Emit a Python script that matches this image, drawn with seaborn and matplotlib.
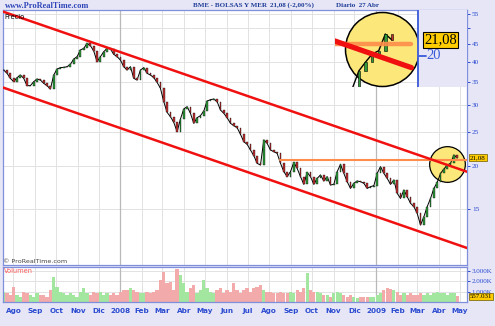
import numpy as np
import pandas as pd
import matplotlib
matplotlib.use("Agg")
import matplotlib.pyplot as plt
import matplotlib.transforms as mtransforms
from matplotlib.ticker import NullLocator
import seaborn as sns

# ---------------- data ----------------
start_date = "2007-07-18"
end_date = "2009-04-27"

close = [
    37.87, 37.04, 35.83, 35.04, 35.99, 36.63, 35.83, 34.12, 34.12, 35.04,
    35.67, 35.43, 34.65, 34.12, 33.37, 36.63, 38.12, 38.47, 38.55, 38.72,
    39.33, 40.75, 41.39, 43.27, 43.75, 45.23, 44.54, 42.98, 40.03, 41.39,
    42.79, 43.75, 43.56, 42.04, 41.39, 40.48, 38.72, 37.87, 38.72, 35.83,
    35.43, 37.87, 38.47, 37.04, 36.63, 35.99, 34.88, 33.52, 30.67, 28.56,
    27.75, 26.72, 25.11, 27.32, 29.21, 29.66, 28.38, 26.55, 27.57, 27.94,
    28.82, 30.80, 31.08, 31.22, 30.67, 29.01, 28.38, 27.57, 26.55, 26.14,
    25.79, 24.67, 23.49, 23.08, 22.22, 21.40, 20.34, 20.11, 23.76, 23.23,
    22.22, 21.98, 21.74, 20.34, 19.24, 18.61, 19.24, 20.47, 19.67, 18.61,
    17.68, 19.15, 18.61, 17.68, 18.40, 18.82, 18.08, 18.61, 17.60, 17.68,
    19.24, 20.20, 19.02, 18.00, 17.21, 17.80, 18.08, 18.00, 17.80, 17.21,
    17.41, 17.53, 19.02, 19.89, 19.02, 18.40, 17.68, 18.20, 16.65, 16.10,
    17.02, 16.28, 15.58, 15.24, 14.57, 13.48, 14.25, 15.24, 16.10, 17.21,
    17.92, 19.02, 19.58, 20.11, 20.34, 21.50, 21.08,
]

volume_k = [
    1003, 842, 680, 1489, 680, 518, 1003, 842, 680, 518,
    842, 680, 680, 518, 1165, 2460, 1489, 1003, 842, 680,
    842, 680, 518, 1003, 1327, 842, 680, 1003, 842, 1003,
    680, 842, 680, 842, 680, 1003, 1165, 1165, 1327, 1165,
    1003, 842, 842, 1003, 842, 1003, 1165, 2136, 2945, 1812,
    1974, 1165, 3172, 2621, 1812, 1003, 1327, 1650, 842, 1165,
    2136, 1327, 1003, 842, 1165, 1327, 842, 1165, 1003, 1812,
    1165, 842, 1165, 1327, 1003, 1327, 1489, 1650, 1165, 1003,
    1003, 842, 842, 1003, 842, 842, 1003, 842, 1165, 1003,
    1327, 2783, 1165, 1003, 1003, 842, 680, 680, 518, 842,
    1003, 842, 680, 518, 680, 518, 356, 518, 518, 518,
    518, 518, 680, 842, 1165, 1327, 1230, 1165, 1003, 680,
    842, 680, 842, 680, 680, 842, 680, 842, 680, 842,
    1003, 906, 842, 680, 842, 842, 557,
]

channel_dates = ["2007-07-17", "2009-05-11"]
upper_channel = [55.89, 19.23]
lower_channel = [33.70, 11.57]
resistance_dates = ["2008-08-16", "2009-05-11"]
resistance = [20.8, 20.8]

last_price = 21.08
last_volume_k = 557.031
highlight_date, highlight_price = "2009-04-13", 20.3
zoom_circle_date, zoom_circle_price = "2009-04-20", 20.45

price_ticks = [15, 20, 25, 30, 35, 40, 45, 50, 55]
price_tick_labels = ["15", "20", "25", "30", "35", "40", "45", "", "55"]
vol_ticks = [1000, 2000, 3000]
vol_tick_labels = ["1.000K", "2.000K", "3.000K"]
month_labels = ["Ago", "Sep", "Oct", "Nov", "Dic", "2008", "Feb", "Mar", "Abr",
                "May", "Jun", "Jul", "Ago", "Sep", "Oct", "Nov", "Dic", "2009",
                "Feb", "Mar", "Abr", "May"]
year_starts = ["2008-01-01", "2009-01-01"]

# ---------------- style ----------------
BG = "#e6e6f7"
SPINE = "#7f8fdc"
BLUE = "#2b4bd0"
GRID = "#e2e2e2"
UP_BODY, DOWN_BODY = "#2f9a3a", "#c23030"
UP_VOL, DOWN_VOL = "#a3e6a0", "#f2aaaa"

sns.set_theme(style="white")
plt.rcParams["font.family"] = ["DejaVu Sans"]
SERIF = ["Liberation Serif", "DejaVu Serif"]

df = pd.DataFrame({
    "date": pd.date_range(start_date, end_date, periods=len(close)),
    "close": close,
    "volume": volume_k,
})
df["open"] = df["close"].shift(1).fillna(df["close"].iloc[0])
df["up"] = df["close"] >= df["open"]
body_lo = df[["open", "close"]].min(axis=1)
body_hi = df[["open", "close"]].max(axis=1)
months = pd.date_range("2007-08-01", "2009-05-01", freq="MS")

W, H = 495, 326
fig = plt.figure(figsize=(W / 100, H / 100), dpi=100, facecolor=BG)
ax = fig.add_axes([3 / W, 1 - 265 / H, 464 / W, 255 / H])
axv = fig.add_axes([3 / W, 1 - 302 / H, 464 / W, 35 / H], sharex=ax)

# ---------------- price panel ----------------
ax.set_facecolor("white")
ax.set_yscale("log")
ax.set_xlim(pd.Timestamp("2007-07-17"), pd.Timestamp("2009-05-11"))
ax.set_ylim(10.33, 56.49)
ax.set_xticks(months)
ax.tick_params(axis="x", length=0, labelbottom=False)
ax.yaxis.tick_right()
ax.set_yticks(price_ticks)
ax.set_yticklabels(price_tick_labels)
ax.yaxis.set_minor_locator(NullLocator())
ax.tick_params(axis="y", length=2, width=0.7, color=BLUE, pad=1.5,
               labelsize=5.2, labelcolor=BLUE)
for lab in ax.get_yticklabels():
    lab.set_family(SERIF)
ax.grid(True, color=GRID, lw=0.7, zorder=0)
ax.set_axisbelow(True)
for y in year_starts:
    ax.axvline(pd.Timestamp(y), color="#b9b9b9", lw=0.9, zorder=0.6)
for s in ax.spines.values():
    s.set_color(SPINE)
    s.set_linewidth(0.9)

ax.scatter([pd.Timestamp(highlight_date)], [highlight_price], s=660,
           facecolor="#fbe77a", edgecolor="black", linewidth=0.9, zorder=2.5)
sns.lineplot(data=df, x="date", y="close", color="black", lw=0.7, ax=ax, zorder=3)
ax.bar(df["date"], body_hi - body_lo, bottom=body_lo, width=2.6,
       color=np.where(df["up"], UP_BODY, DOWN_BODY), edgecolor="black",
       linewidth=0.25, zorder=3.5)
ax.plot(pd.to_datetime(resistance_dates), resistance, color="#ff8c4a", lw=1.5, zorder=4)
ax.plot(pd.to_datetime(channel_dates), upper_channel, color="#f01010", lw=1.8, zorder=4.5)
ax.plot(pd.to_datetime(channel_dates), lower_channel, color="#f01010", lw=1.8, zorder=4.5)
ax.set_xlabel("")
ax.set_ylabel("")

ytrans = mtransforms.blended_transform_factory(ax.transAxes, ax.transData)
ax.text(1.006, last_price, "21,08", transform=ytrans, fontsize=5, family=SERIF,
        va="center", ha="left", color="black",
        bbox=dict(boxstyle="square,pad=0.15", fc="#ffcc00", ec="#6a5a00", lw=0.5),
        clip_on=False, zorder=6)
ax.text(0.003, 0.985, "Precio", transform=ax.transAxes, fontsize=4.8,
        va="top", ha="left", color="black", zorder=6)
ax.text(0.0, 0.002, "\u00a9 ProRealTime.com", transform=ax.transAxes,
        fontsize=4.6, va="bottom", ha="left", color="#444444", zorder=6)

# ---------------- volume panel ----------------
axv.set_facecolor("white")
axv.bar(df["date"], df["volume"], width=4.7,
        color=np.where(df["up"], UP_VOL, DOWN_VOL), edgecolor="none", zorder=2)
axv.set_ylim(0, 3400)
axv.yaxis.tick_right()
axv.set_yticks(vol_ticks)
axv.set_yticklabels(vol_tick_labels)
axv.tick_params(axis="y", length=2, width=0.7, color=BLUE, pad=1.5,
                labelsize=5, labelcolor=BLUE)
for lab in axv.get_yticklabels():
    lab.set_family(SERIF)
axv.set_xticks(months)
axv.set_xticklabels(month_labels)
axv.tick_params(axis="x", length=2.5, width=0.8, color=BLUE, pad=1.5,
                labelsize=5.2, labelcolor=BLUE)
for lab in axv.get_xticklabels():
    lab.set_fontweight("bold")
axv.grid(True, color=GRID, lw=0.7, zorder=0)
axv.set_axisbelow(True)
for y in year_starts:
    axv.axvline(pd.Timestamp(y), color="#b9b9b9", lw=0.9, zorder=0.6)
for s in axv.spines.values():
    s.set_color(SPINE)
    s.set_linewidth(0.9)
vtrans = mtransforms.blended_transform_factory(axv.transAxes, axv.transData)
axv.text(1.006, last_volume_k, "557.031", transform=vtrans, fontsize=5, family=SERIF,
         va="center", ha="left", color="black",
         bbox=dict(boxstyle="square,pad=0.15", fc="#ffcc00", ec="#6a5a00", lw=0.5),
         clip_on=False, zorder=6)
axv.text(0.003, 0.96, "Volumen", transform=axv.transAxes, fontsize=4.8,
         va="top", ha="left", color="#ff5a5a", zorder=6)

# ---------------- magnified inset ----------------
axi = fig.add_axes([335 / W, 1 - 87 / H, 132 / W, 77 / H])
axi.set_facecolor("none")
axi.axis("off")
axi.set_yscale("log")
axi.set_xlim(pd.Timestamp("2009-03-17"), pd.Timestamp("2009-06-20"))
axi.set_ylim(18.03, 23.29)
axi.scatter([pd.Timestamp(zoom_circle_date)], [zoom_circle_price], s=2840,
            facecolor="#fbe77a", edgecolor="black", linewidth=1.1, zorder=1,
            clip_on=False)
axi.plot(df["date"], df["close"], color="black", lw=1.0, zorder=3)
axi.bar(df["date"], body_hi - body_lo, bottom=body_lo, width=1.7,
        color=np.where(df["up"], UP_BODY, DOWN_BODY), edgecolor="black",
        linewidth=0.4, zorder=3.5)
axi.plot(pd.to_datetime(resistance_dates), resistance, color="#ff8c4a", lw=3.2,
         alpha=0.9, zorder=4)
axi.plot(pd.to_datetime(channel_dates), upper_channel, color="#f01010", lw=3.8, zorder=4.5)
axi.axvspan(pd.Timestamp("2009-05-16"), pd.Timestamp("2009-06-20"), color=BG, lw=0, zorder=5)
axi.axvline(pd.Timestamp("2009-05-16"), color="#3a5ad8", lw=1.3, zorder=5.5)
itrans = mtransforms.blended_transform_factory(axi.transAxes, axi.transData)
axi.plot([0.636, 0.690], [20, 20], transform=itrans, color="#3a5ad8", lw=1.3, zorder=6)
axi.text(0.695, 20, "20", transform=itrans, fontsize=10.5, family=SERIF,
         color="#3a5ad8", va="center", ha="left", zorder=6)
axi.text(0.676, last_price, "21,08", transform=itrans, fontsize=10.5, family=SERIF,
         color="black", va="center", ha="left", zorder=6,
         bbox=dict(boxstyle="square,pad=0.08", fc="#ffcc00", ec="black", lw=0.8))

# ---------------- header ----------------
fig.text(5 / W, 1 - 5.5 / H, "www.ProRealTime.com", fontsize=6, family=SERIF,
         fontweight="bold", color="#2f45b8", va="center", ha="left")
fig.text(193 / W, 1 - 5.5 / H, "BME - BOLSAS Y MER", fontsize=5.0, family=SERIF,
         fontweight="bold", color="#1e3c96", va="center", ha="left")
fig.text(270 / W, 1 - 5.5 / H, "21,08 (-2,00%)", fontsize=5.0, family=SERIF,
         fontweight="bold", color="#1e3c96", va="center", ha="left")
fig.text(336 / W, 1 - 5.5 / H, "Diario  27 Abr", fontsize=5.0, family=SERIF,
         fontweight="bold", color="#1e3c96", va="center", ha="left")

fig.savefig("out.png", dpi=100, facecolor=BG)
